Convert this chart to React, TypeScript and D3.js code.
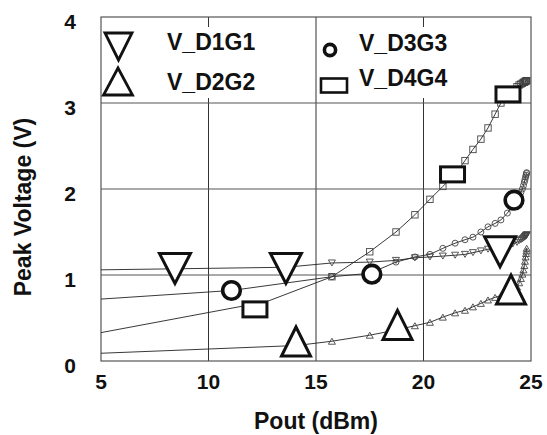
import React from 'react';
import * as d3 from 'd3';

// Pout (dBm) sweep shared by the dense part of every curve
const poutHigh = [15.74, 17.5, 18.72, 19.6, 20.3, 20.9, 21.47, 21.93, 22.3, 22.67, 23.0, 23.33, 23.6, 23.9,
  24.15, 24.35, 24.45, 24.53, 24.6, 24.65, 24.69, 24.72, 24.75, 24.77, 24.79, 24.8];

const vD1G1 = [1.14, 1.15, 1.17, 1.2, 1.21, 1.22, 1.23, 1.24, 1.26, 1.28, 1.3, 1.31, 1.32, 1.34,
  1.36, 1.38, 1.4, 1.41, 1.42, 1.43, 1.44, 1.45, 1.45, 1.46, 1.46, 1.47];
const vD2G2 = [0.23, 0.3, 0.36, 0.41, 0.45, 0.51, 0.56, 0.59, 0.63, 0.67, 0.71, 0.74, 0.76, 0.78,
  0.82, 0.86, 0.91, 0.96, 1.01, 1.06, 1.11, 1.16, 1.21, 1.25, 1.28, 1.31];
const vD3G3 = [0.98, 1.02, 1.15, 1.21, 1.24, 1.31, 1.37, 1.41, 1.44, 1.5, 1.56, 1.6, 1.64, 1.72,
  1.8, 1.87, 1.92, 1.96, 2.0, 2.04, 2.08, 2.11, 2.14, 2.16, 2.18, 2.19];
const vD4G4 = [0.98, 1.27, 1.5, 1.7, 1.88, 2.03, 2.17, 2.33, 2.46, 2.58, 2.71, 2.87, 3.0, 3.08,
  3.15, 3.19, 3.21, 3.22, 3.23, 3.24, 3.24, 3.25, 3.25, 3.26, 3.26, 3.26];

// low power part (few points, no small markers)
const poutLowD1G1 = [5, 13.6];
const vLowD1G1 = [1.06, 1.09];
const poutLowD2G2 = [5, 14.1];
const vLowD2G2 = [0.09, 0.18];
const poutLowD3G3 = [5, 11.07];
const vLowD3G3 = [0.72, 0.82];
const poutLowD4G4 = [5, 12.7];
const vLowD4G4 = [0.33, 0.69];

// big marker positions
const bigD1G1 = [[8.44, 1.076], [13.6, 1.076], [23.56, 1.27]];
const bigD2G2 = [[14.07, 0.227], [18.79, 0.42], [24.07, 0.83]];
const bigD3G3 = [[11.07, 0.82], [17.6, 1.01], [24.21, 1.87]];
const bigD4G4 = [[12.16, 0.6], [21.35, 2.17], [23.93, 3.1]];

const xTicks = [5, 10, 15, 20, 25];
const yTicks = [0, 1, 2, 3, 4];
const seriesNames = ['V_D1G1', 'V_D2G2', 'V_D3G3', 'V_D4G4'];

const W = 547;
const H = 435;
const m = { left: 101, top: 17, right: 531, bottom: 361 };
const font = "'Liberation Sans', Arial, Helvetica, sans-serif";

function downTri(cx: number, cy: number, w: number, h: number) {
  return `M${cx - w / 2},${cy - h / 2}L${cx + w / 2},${cy - h / 2}L${cx},${cy + h / 2}Z`;
}
function upTri(cx: number, cy: number, w: number, h: number) {
  return `M${cx - w / 2},${cy + h / 2}L${cx + w / 2},${cy + h / 2}L${cx},${cy - h / 2}Z`;
}

function Marker({ kind, cx, cy, big }: { kind: string; cx: number; cy: number; big: boolean }) {
  const st = big
    ? { fill: 'white', stroke: '#111', strokeWidth: 3 }
    : { fill: 'none', stroke: '#444', strokeWidth: 0.9 };
  if (kind === 'down') {
    return big ? <path d={downTri(cx, cy, 31, 30)} {...st} /> : <path d={downTri(cx, cy, 7, 6)} {...st} />;
  }
  if (kind === 'up') {
    return big ? <path d={upTri(cx, cy, 29, 29)} {...st} /> : <path d={upTri(cx, cy, 7, 6)} {...st} />;
  }
  if (kind === 'circle') {
    return big
      ? <circle cx={cx} cy={cy} r={8.8} fill="white" stroke="#111" strokeWidth={3.6} />
      : <circle cx={cx} cy={cy} r={3} {...st} />;
  }
  return big
    ? <rect x={cx - 12} y={cy - 7.5} width={24} height={15} {...st} />
    : <rect x={cx - 3.2} y={cy - 3.2} width={6.4} height={6.4} {...st} />;
}

export default function App() {
  const x = d3.scaleLinear().domain([5, 25]).range([m.left, m.right]);
  const y = d3.scaleLinear().domain([0, 4]).range([m.bottom, m.top]);
  const line = d3.line<[number, number]>().x(d => x(d[0])).y(d => y(d[1]));

  const series = [
    { kind: 'down', low: [poutLowD1G1, vLowD1G1], vals: vD1G1, big: bigD1G1 },
    { kind: 'up', low: [poutLowD2G2, vLowD2G2], vals: vD2G2, big: bigD2G2 },
    { kind: 'circle', low: [poutLowD3G3, vLowD3G3], vals: vD3G3, big: bigD3G3 },
    { kind: 'rect', low: [poutLowD4G4, vLowD4G4], vals: vD4G4, big: bigD4G4 },
  ];

  return (
    <svg width={W} height={H} style={{ position: 'absolute', left: 0, top: 0, background: 'white' }}
      fontFamily={font} fontWeight="bold">
      {/* grid */}
      {xTicks.slice(1, -1).map(t => (
        <line key={'gx' + t} x1={x(t)} x2={x(t)} y1={m.top} y2={m.bottom} stroke="#333" strokeWidth={1} />
      ))}
      {yTicks.slice(1, -1).map(t => (
        <line key={'gy' + t} x1={m.left} x2={m.right} y1={y(t)} y2={y(t)} stroke="#555" strokeWidth={1} />
      ))}
      <rect x={m.left} y={m.top} width={m.right - m.left} height={m.bottom - m.top}
        fill="none" stroke="#555" strokeWidth={1.2} />

      {/* legend background */}
      <rect x={m.left + 1} y={27} width={x(15) - m.left - 3} height={71} fill="white" />
      <rect x={x(15) + 2} y={27} width={m.right - x(15) - 3} height={71} fill="white" />

      {/* curves */}
      {series.map((s, i) => {
        const pts: [number, number][] = [
          ...s.low[0].map((p, j) => [p, s.low[1][j]] as [number, number]),
          ...poutHigh.map((p, j) => [p, s.vals[j]] as [number, number]),
        ];
        return <path key={'l' + i} d={line(pts) || ''} fill="none" stroke="#222" strokeWidth={0.9} />;
      })}
      {series.map((s, i) => (
        <g key={'sm' + i}>
          {poutHigh.map((p, j) => (
            <Marker key={j} kind={s.kind} cx={x(p)} cy={y(s.vals[j])} big={false} />
          ))}
        </g>
      ))}
      {series.map((s, i) => (
        <g key={'bm' + i}>
          {s.big.map((b, j) => (
            <Marker key={j} kind={s.kind} cx={x(b[0])} cy={y(b[1])} big={true} />
          ))}
        </g>
      ))}

      {/* legend */}
      <path d={downTri(118.5, 46.5, 27, 27)} fill="white" stroke="#111" strokeWidth={2.8} />
      <path d={upTri(118, 81.5, 29, 27)} fill="white" stroke="#111" strokeWidth={2.8} />
      <circle cx={330} cy={50} r={5.6} fill="white" stroke="#111" strokeWidth={3.6} />
      <rect x={321} y={78.5} width={26} height={14} fill="white" stroke="#111" strokeWidth={2.6} />
      <text x={167} y={49.5} fontSize={23} fill="#111">{seriesNames[0]}</text>
      <text x={167} y={89.5} fontSize={23} fill="#111">{seriesNames[1]}</text>
      <text x={359} y={51} fontSize={23} fill="#111">{seriesNames[2]}</text>
      <text x={359} y={86} fontSize={23} fill="#111">{seriesNames[3]}</text>

      {/* tick labels */}
      {yTicks.map(t => (
        <text key={'ty' + t} x={76} y={y(t) + 4} fontSize={21} textAnchor="end" dominantBaseline="central"
          fill="#111">{t}</text>
      ))}
      {xTicks.map(t => (
        <text key={'tx' + t} x={x(t)} y={389} fontSize={21} textAnchor="middle" fill="#111">{t}</text>
      ))}

      {/* axis titles */}
      <text x={(m.left + m.right) / 2} y={429} fontSize={23} textAnchor="middle" fill="#111">Pout (dBm)</text>
      <text transform={`translate(31,${(m.top + m.bottom) / 2 + 18}) rotate(-90)`} fontSize={23}
        textAnchor="middle" fill="#111">Peak Voltage (V)</text>
    </svg>
  );
}
